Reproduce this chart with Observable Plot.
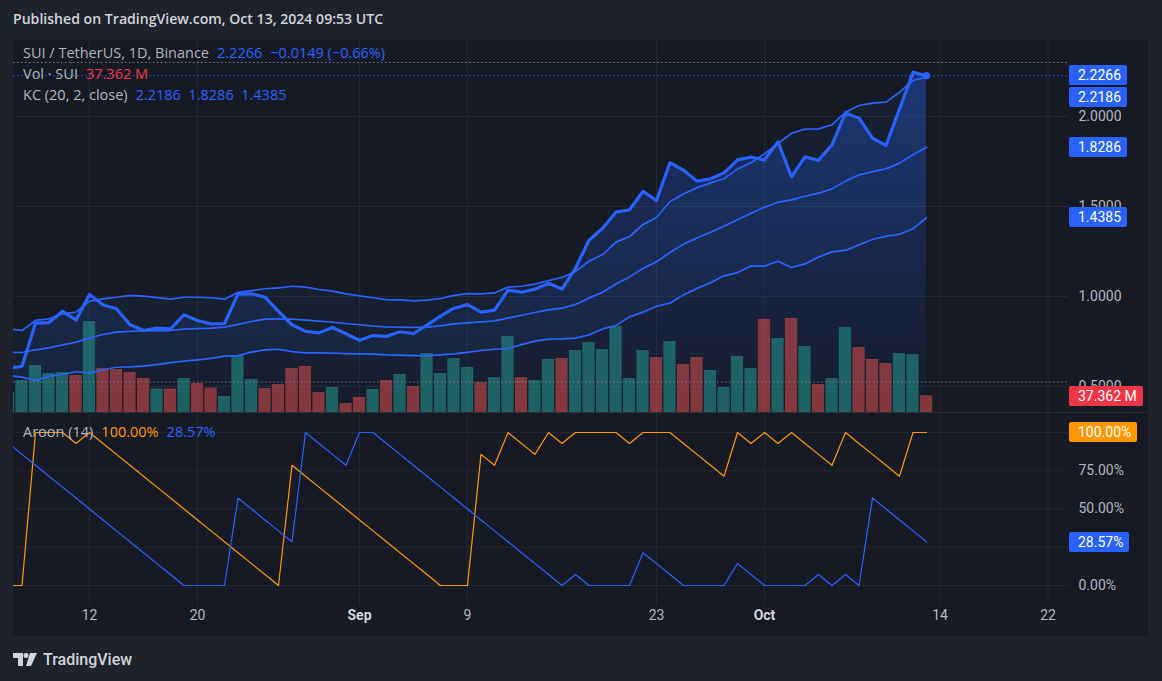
<!DOCTYPE html>
<html>
<head>
<meta charset="utf-8">
<script src="https://cdn.jsdelivr.net/npm/d3@7"></script>
<script src="https://cdn.jsdelivr.net/npm/@observablehq/plot@0.6"></script>
<style>
html, body { margin: 0; padding: 0; background: #1e222d; }
#root { position: relative; width: 1162px; height: 681px; overflow: hidden; background: #1e222d;
  font-family: Roboto, "Liberation Sans", sans-serif; }
#root svg { position: absolute; clip-path: inset(0px 0px 0px 13px); }
.legend { position: absolute; left: 23px; display: flex; gap: 8px; font-size: 14.5px; color: #b2b5be; white-space: nowrap; line-height: 16px;
  font-family: "Open Sans", Roboto, sans-serif; }
</style>
</head>
<body>
<div id="root"></div>
<script>
// ---------------- DATA (daily, 2024-08-06 .. 2024-10-13) ----------------
const startDate = "2024-08-06";
const closes = [0.604, 0.611, 0.852, 0.855, 0.917, 0.870, 1.011, 0.954, 0.932, 0.843,
  0.811, 0.824, 0.820, 0.898, 0.867, 0.848, 0.850, 1.013, 1.015, 0.996,
  0.918, 0.843, 0.806, 0.798, 0.828, 0.793,
  0.757, 0.783, 0.779, 0.804, 0.794, 0.841, 0.891, 0.935, 0.955, 0.913,
  0.924, 1.035, 1.024, 1.041, 1.074, 1.041, 1.157, 1.313, 1.378, 1.469,
  1.481, 1.585, 1.533, 1.744, 1.702, 1.641, 1.654, 1.687, 1.759, 1.774,
  1.759, 1.859, 1.665, 1.776, 1.757, 1.843, 2.020, 1.991, 1.880, 1.839,
  2.041, 2.246, 2.2266];
const kcUpper = [0.820, 0.811, 0.867, 0.876, 0.904, 0.913, 0.974, 0.987, 0.996, 1.006,
  1.002, 0.994, 0.985, 0.996, 0.996, 0.993, 0.985, 1.023, 1.033, 1.043,
  1.048, 1.057, 1.052, 1.039, 1.030, 1.015,
  1.004, 0.993, 0.983, 0.981, 0.976, 0.980, 0.989, 1.006, 1.016, 1.015,
  1.020, 1.052, 1.057, 1.069, 1.089, 1.106, 1.139, 1.196, 1.233, 1.302,
  1.333, 1.400, 1.439, 1.528, 1.570, 1.605, 1.631, 1.654, 1.709, 1.743,
  1.793, 1.850, 1.907, 1.930, 1.931, 1.954, 2.024, 2.061, 2.074, 2.080,
  2.135, 2.200, 2.2186];
const kcMid = [0.690, 0.689, 0.704, 0.715, 0.731, 0.746, 0.770, 0.789, 0.802, 0.807,
  0.809, 0.811, 0.811, 0.819, 0.822, 0.824, 0.830, 0.845, 0.861, 0.874,
  0.876, 0.874, 0.869, 0.863, 0.857, 0.850,
  0.843, 0.835, 0.831, 0.830, 0.828, 0.830, 0.837, 0.848, 0.854, 0.859,
  0.865, 0.880, 0.896, 0.911, 0.926, 0.935, 0.956, 0.991, 1.024, 1.069,
  1.109, 1.156, 1.193, 1.244, 1.291, 1.325, 1.357, 1.391, 1.426, 1.463,
  1.496, 1.524, 1.537, 1.557, 1.574, 1.598, 1.641, 1.676, 1.694, 1.709,
  1.741, 1.787, 1.8286];
const kcLower = [0.560, 0.552, 0.533, 0.556, 0.567, 0.582, 0.574, 0.593, 0.607, 0.609,
  0.613, 0.622, 0.633, 0.641, 0.648, 0.656, 0.669, 0.672, 0.691, 0.704,
  0.707, 0.694, 0.687, 0.687, 0.685, 0.683,
  0.681, 0.680, 0.676, 0.674, 0.672, 0.672, 0.676, 0.681, 0.690, 0.700,
  0.707, 0.711, 0.733, 0.752, 0.763, 0.765, 0.769, 0.787, 0.820, 0.839,
  0.887, 0.913, 0.946, 0.963, 1.009, 1.045, 1.076, 1.115, 1.133, 1.169,
  1.169, 1.196, 1.161, 1.181, 1.219, 1.248, 1.256, 1.287, 1.317, 1.335,
  1.346, 1.376, 1.4385];
// volume in millions of SUI
const volumes = [44.7, 71.6, 105.1, 87.2, 89.5, 82.8, 203.6, 98.4, 96.2, 89.5,
  76.1, 52.6, 52.6, 76.1, 64.9, 54.8, 35.8, 127.5, 73.8, 53.7,
  62.6, 98.4, 102.9, 44.7, 55.9, 20.1,
  33.6, 51.5, 71.6, 85.0, 58.2, 132.0, 87.2, 120.8, 100.7, 67.1,
  78.3, 170.0, 78.3, 71.6, 118.6, 120.8, 138.7, 156.6, 140.9, 192.4,
  76.1, 138.7, 123.0, 158.8, 107.4, 123.0, 94.0, 55.9, 125.3, 98.4,
  208.0, 165.5, 210.3, 147.6, 62.6, 76.1, 190.1, 145.4, 118.6, 109.6,
  132.0, 129.7, 37.362];
const aroonUp = [0, 0, 100, 100, 100, 92.86, 100, 92.86, 85.71, 78.57,
  71.43, 64.29, 57.14, 50, 42.86, 35.71, 28.57, 21.43, 14.29, 7.14,
  0, 78.57, 71.43, 64.29, 57.14, 50,
  42.86, 35.71, 28.57, 21.43, 14.29, 7.14, 0, 0, 0, 85.71,
  78.57, 100, 92.86, 85.71, 100, 92.86, 100, 100, 100, 100,
  92.86, 100, 100, 100, 92.86, 85.71, 78.57, 71.43, 100, 92.86,
  100, 92.86, 100, 92.86, 85.71, 78.57, 100, 92.86, 85.71, 78.57,
  71.43, 100, 100];
const aroonDown = [92.86, 85.71, 78.57, 71.43, 64.29, 57.14, 50, 42.86, 35.71, 28.57,
  21.43, 14.29, 7.14, 0, 0, 0, 0, 57.14, 50, 42.86,
  35.71, 28.57, 100, 92.86, 85.71, 78.57,
  100, 100, 92.86, 85.71, 78.57, 71.43, 64.29, 57.14, 50, 42.86,
  35.71, 28.57, 21.43, 14.29, 7.14, 0, 7.14, 0, 0, 0,
  0, 21.43, 14.29, 7.14, 0, 0, 0, 0, 14.29, 7.14,
  0, 0, 0, 0, 7.14, 0, 7.14, 0, 57.14, 50,
  42.86, 35.71, 28.57];

const timeTickDates = ["2024-08-12", "2024-08-20", "2024-09-01", "2024-09-09", "2024-09-23", "2024-10-01", "2024-10-14", "2024-10-22"];
const timeTickLabels = ["12", "20", "Sep", "9", "23", "Oct", "14", "22"];
const timeTickIsMonth = [false, false, true, false, false, true, false, false];
const priceTicks = [0.5, 1.0, 1.5, 2.0];
const aroonGrid = [0, 25, 50, 75, 100];
const aroonLabelTicks = [0, 50, 75];
const rangeHigh = 2.30;
const rangeLow = 0.525;
const lastClose = 2.2266;
const lastChange = "−0.0149";
const lastChangePct = "(−0.66%)";
const lastVolumeLabel = "37.362 M";
const lastVolume = 37.362;
const kcLast = [2.2186, 1.8286, 1.4385];
const aroonLast = [100.00, 28.57];

// ---------------- LAYOUT ----------------
const W = 1162;
const plotL = 13, plotR = 1068;
const mainTop = 40, mainH = 372;
const aroonTop = 412, aroonH = 224;
const day = 864e5;
const anchorDate = Date.UTC(2024, 7, 12), anchorX = 89, pxPerDay = 13.5;
const xDomain = [new Date(anchorDate - (anchorX - plotL) / pxPerDay * day), new Date(anchorDate + (plotR - anchorX) / pxPerDay * day)];
const priceDomain = [0.3556, 0.3556 + mainH / 180];
const volDomain = [0, mainH * 2.237];
const fontFamily = 'Roboto, "Liberation Sans", sans-serif';
const blue = "#2962ff", orange = "#ff9800", upC = "#26a69a", downC = "#ef5350";
const gridC = "#232733", axisC = "#b2b5be";

const data = closes.map((c, i) => ({
  date: d3.utcDay.offset(new Date(startDate), i),
  close: c, upper: kcUpper[i], mid: kcMid[i], lower: kcLower[i],
  vol: volumes[i], up: i === 0 || c >= closes[i - 1],
  aUp: aroonUp[i], aDown: aroonDown[i]
}));
const ticks = timeTickDates.map((d, i) => ({date: new Date(d), label: timeTickLabels[i], month: timeTickIsMonth[i]}));
const tickDates = ticks.map(t => t.date);

const root = document.getElementById("root");
function addDiv(css, html) {
  const d = document.createElement("div");
  d.style.cssText = "position:absolute;" + css;
  if (html !== undefined) d.innerHTML = html;
  root.appendChild(d);
  return d;
}
function place(svg, top) { svg.style.left = "0px"; svg.style.top = top + "px"; root.appendChild(svg); }

// header and frame
addDiv("left:13px;top:9px;font-size:14.1px;font-weight:600;color:#d1d4dc;white-space:nowrap;font-family:'Open Sans',Roboto,sans-serif;", "Published on TradingView.com, Oct 13, 2024 09:53 UTC");
addDiv("left:13px;top:40px;width:1135px;height:596px;background:#161a25;");

const common = {width: W, marginLeft: plotL, marginRight: W - plotR,
  style: {background: "transparent", color: axisC, fontSize: "14px", fontFamily}};
const xOpt = {type: "utc", domain: xDomain, axis: null};

// background layer: grid, KC fill, price area
const pBg = Plot.plot({...common, height: mainH, marginTop: 0, marginBottom: 0,
  x: xOpt,
  y: {domain: priceDomain, axis: "right", ticks: priceTicks, tickFormat: d => d.toFixed(4), tickSize: 0, tickPadding: 10, label: null},
  marks: [
    Plot.ruleY(priceTicks, {stroke: gridC}),
    Plot.ruleX(tickDates, {stroke: gridC}),
    Plot.areaY(data, {x: "date", y1: "lower", y2: "upper", fill: "#2196f3", fillOpacity: 0.05, clip: true}),
    Plot.areaY(data, {x: "date", y: "close", fill: "url(#priceGrad)", clip: true})
  ]
});
const defs = document.createElementNS("http://www.w3.org/2000/svg", "defs");
defs.innerHTML = '<linearGradient id="priceGrad" gradientUnits="userSpaceOnUse" x1="0" y1="22" x2="0" y2="372">' +
  '<stop offset="0" stop-color="#2962ff" stop-opacity="0.34"/><stop offset="1" stop-color="#2962ff" stop-opacity="0.02"/></linearGradient>';
pBg.insertBefore(defs, pBg.firstChild);
place(pBg, mainTop);

// volume layer
const pVol = Plot.plot({...common, height: mainH, marginTop: 0, marginBottom: 0,
  x: xOpt, y: {domain: volDomain, axis: null}, color: {type: "identity"},
  marks: [
    Plot.rectY(data, {x1: d => d3.utcHour.offset(d.date, -12), x2: d => d3.utcHour.offset(d.date, 12), y: "vol",
      fill: d => d.up ? upC : downC, fillOpacity: 0.5, insetLeft: 0.6, insetRight: 0.6})
  ]
});
place(pVol, mainTop);

// lines layer
const pLines = Plot.plot({...common, height: mainH, marginTop: 0, marginBottom: 0,
  x: xOpt, y: {domain: priceDomain, axis: null},
  marks: [
    Plot.ruleY([rangeHigh, rangeLow], {stroke: "#787b86", strokeDasharray: "1.5,2.5"}),
    Plot.ruleY([lastClose], {stroke: blue, strokeDasharray: "1.5,2.5"}),
    Plot.line(data, {x: "date", y: "upper", stroke: blue, strokeWidth: 1.7}),
    Plot.line(data, {x: "date", y: "mid", stroke: blue, strokeWidth: 1.7}),
    Plot.line(data, {x: "date", y: "lower", stroke: blue, strokeWidth: 1.7}),
    Plot.line(data, {x: "date", y: "close", stroke: blue, strokeWidth: 3.2}),
    Plot.dot(data.slice(-1), {x: "date", y: "close", r: 3.6, fill: blue})
  ]
});
place(pLines, mainTop);

// pane separator
addDiv("left:13px;top:412px;width:1135px;height:1px;background:#2a2e39;");

// Aroon pane
const pAroon = Plot.plot({...common, height: aroonH, marginTop: 20, marginBottom: 51,
  x: xOpt,
  y: {domain: [0, 100], axis: "right", ticks: aroonLabelTicks, tickFormat: d => d.toFixed(2) + "%", tickSize: 0, tickPadding: 10, label: null},
  marks: [
    Plot.ruleY(aroonGrid, {stroke: gridC}),
    Plot.ruleX(tickDates, {stroke: gridC, insetTop: -20, insetBottom: -20}),
    Plot.line(data, {x: "date", y: "aUp", stroke: orange, strokeWidth: 1.2}),
    Plot.line(data, {x: "date", y: "aDown", stroke: blue, strokeWidth: 1.2}),
    Plot.text(ticks.filter(t => !t.month), {x: "date", text: "label", frameAnchor: "bottom", dy: 34, fill: axisC, fontSize: 14}),
    Plot.text(ticks.filter(t => t.month), {x: "date", text: "label", frameAnchor: "bottom", dy: 34, fill: "#d1d4dc", fontSize: 14, fontWeight: "bold"})
  ]
});
place(pAroon, aroonTop);

// legends
function legend(top, html) {
  const d = addDiv("", html);
  d.className = "legend";
  d.style.top = top + "px";
}
legend(45, `<span>SUI / TetherUS, 1D, Binance</span><span style="color:${blue}">${lastClose.toFixed(4)}</span><span style="color:${blue}">${lastChange} ${lastChangePct}</span>`);
legend(66, `<span>Vol · SUI</span><span style="color:#f23645">${lastVolumeLabel}</span>`);
legend(87, `<span>KC (20, 2, close)</span><span style="color:${blue}">${kcLast.map(v => v.toFixed(4)).join("&nbsp;&nbsp;")}</span>`);
legend(424, `<span>Aroon (14)</span><span style="color:${orange}">${aroonLast[0].toFixed(2)}%</span><span style="color:${blue}">${aroonLast[1].toFixed(2)}%</span>`);

// price-scale badges
function badge(text, bg, center) {
  addDiv(`left:1069px;top:${(center - 10).toFixed(1)}px;height:20px;line-height:20px;padding:0 6px 0 9px;background:${bg};color:#fff;font-size:14px;border-radius:2px;white-space:nowrap;`, text);
}
const yP = pLines.scale("y"), yV = pVol.scale("y"), yA = pAroon.scale("y");
let prev = -Infinity;
[lastClose, ...kcLast].forEach(v => {
  let c = mainTop + yP.apply(v);
  if (c < prev + 22) c = prev + 22;
  prev = c;
  badge(v.toFixed(4), blue, c);
});
badge(lastVolumeLabel, "#f23645", mainTop + yV.apply(lastVolume) + 1);
badge(aroonLast[0].toFixed(2) + "%", orange, aroonTop + yA.apply(aroonLast[0]));
badge(aroonLast[1].toFixed(2) + "%", blue, aroonTop + yA.apply(aroonLast[1]) + 1);

// footer
addDiv("left:13px;top:652px;width:26px;height:16px;",
  '<svg width="26" height="16" viewBox="0 0 26 16" style="position:static;clip-path:none"><path d="M0 1h10v13H5V6H0z" fill="#d1d4dc"/><circle cx="13" cy="3.5" r="2.5" fill="#d1d4dc"/><path d="M17 1h7l-6 13h-5z" fill="#d1d4dc"/></svg>');
addDiv("left:43px;top:650px;font-size:16px;font-weight:500;color:#d1d4dc;white-space:nowrap;", "TradingView");
</script>
</body>
</html>
